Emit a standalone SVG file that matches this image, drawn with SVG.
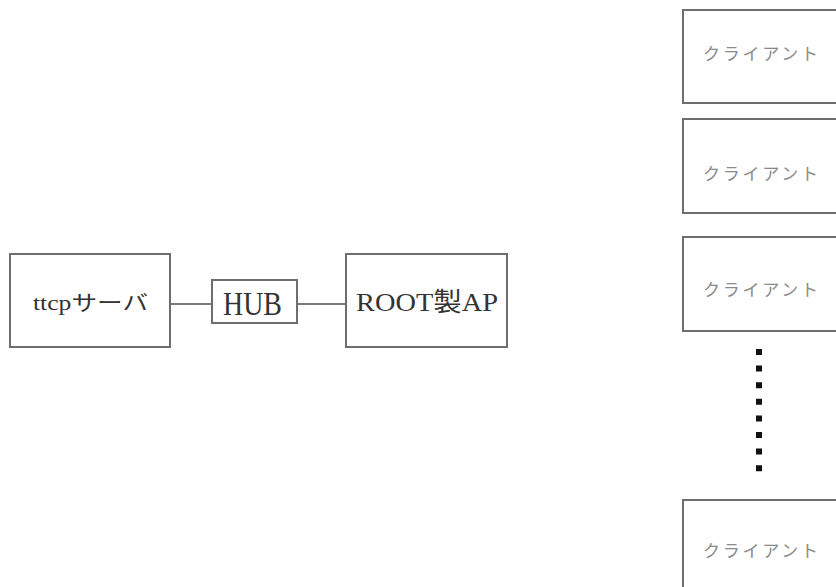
<svg xmlns="http://www.w3.org/2000/svg" width="836" height="587" viewBox="0 0 836 587">
<style>
.box{fill:#fff;stroke:#6e6e6e;stroke-width:2}
.line{stroke:#7a7a7a;stroke-width:2;fill:none}
.t{font-family:"Liberation Serif","Noto Sans CJK JP",serif;fill:#333}
.cl{font-family:"Noto Sans CJK JP",sans-serif;fill:#8a8a8a;font-size:17px}
</style>
<rect width="836" height="587" fill="#fff"/>
<g id="connectors">
<line class="line" x1="170" y1="304" x2="212" y2="304"/>
<line class="line" x1="297" y1="304" x2="346" y2="304"/>
<line x1="759" y1="349" x2="759" y2="472" stroke="#111" stroke-width="6" stroke-dasharray="6 10.6"/>
</g>
<g id="ttcp">
<rect class="box" x="10" y="254" width="160" height="93"/>
<text class="t" x="33" y="310" font-size="21" textLength="115" lengthAdjust="spacingAndGlyphs">ttcpサーバ</text>
</g>
<g id="hub">
<rect class="box" x="212" y="280" width="85" height="43"/>
<text class="t" x="223" y="315" font-size="34" fill="#222" textLength="59" lengthAdjust="spacingAndGlyphs">HUB</text>
</g>
<g id="ap">
<rect class="box" x="346" y="254" width="161" height="93"/>
<text class="t" x="356" y="311" font-size="26" textLength="142" lengthAdjust="spacingAndGlyphs">ROOT製AP</text>
</g>
<g id="client1">
<rect class="box" x="683" y="10" width="170" height="93"/>
<text class="cl" x="703" y="60" textLength="115" lengthAdjust="spacing">クライアント</text>
</g>
<g id="client2">
<rect class="box" x="683" y="119" width="170" height="94"/>
<text class="cl" x="703" y="180" textLength="115" lengthAdjust="spacing">クライアント</text>
</g>
<g id="client3">
<rect class="box" x="683" y="237" width="170" height="94"/>
<text class="cl" x="703" y="296" textLength="115" lengthAdjust="spacing">クライアント</text>
</g>
<g id="client4">
<rect class="box" x="683" y="500" width="170" height="100"/>
<text class="cl" x="703" y="557" textLength="115" lengthAdjust="spacing">クライアント</text>
</g>
</svg>
